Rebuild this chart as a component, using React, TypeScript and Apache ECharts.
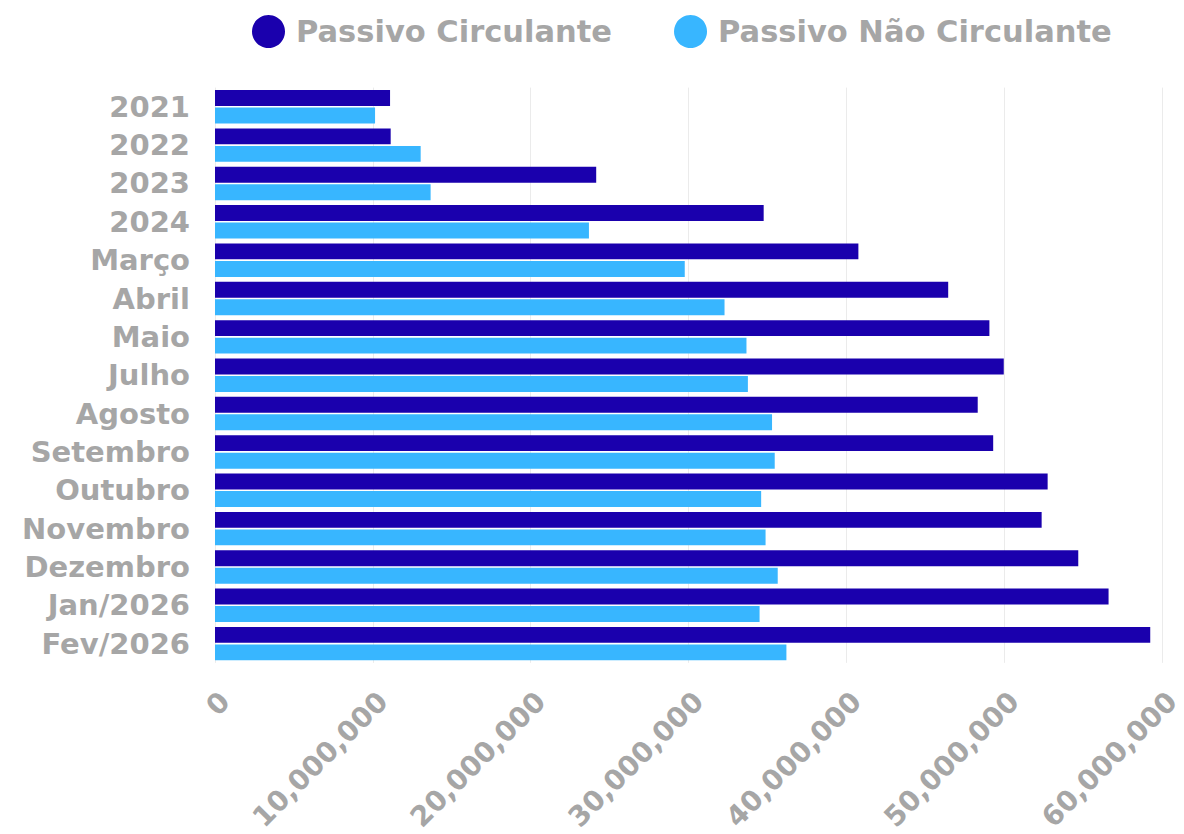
import React, { useEffect, useRef } from "react";
import * as echarts from "echarts";

const categories = [
  "2021", "2022", "2023", "2024", "Março", "Abril", "Maio", "Julho",
  "Agosto", "Setembro", "Outubro", "Novembro", "Dezembro", "Jan/2026", "Fev/2026",
];
const passivoCirculante = [
  11090000, 11130000, 24150000, 34760000, 40760000, 46450000, 49060000, 49970000,
  48320000, 49300000, 52750000, 52370000, 54690000, 56610000, 59250000,
];
const passivoNaoCirculante = [
  10140000, 13030000, 13660000, 23690000, 29760000, 32280000, 33670000, 33760000,
  35290000, 35460000, 34600000, 34880000, 35650000, 34500000, 36200000,
];
const seriesNames = ["Passivo Circulante", "Passivo Não Circulante"];
const xTicks = { min: 0, max: 60000000, interval: 10000000 };

const FONT = "DejaVu Sans";
const GRAY = "#a6a6a6";

export default function App() {
  const ref = useRef<HTMLDivElement>(null);
  useEffect(() => {
    document.body.style.margin = "0";
    const chart = echarts.init(ref.current!, null, { renderer: "svg" });
    chart.setOption({
      animation: false,
      legend: {
        left: 247,
        top: 10,
        icon: "circle",
        itemWidth: 33,
        itemHeight: 33,
        itemGap: 62,
        textStyle: { color: GRAY, fontSize: 30.5, fontWeight: 700, fontFamily: FONT, padding: [0, 0, 0, 6] },
        data: seriesNames,
      },
      grid: { left: 215, right: 20, top: 87.6, bottom: 170.4 },
      xAxis: {
        type: "value",
        min: xTicks.min,
        max: xTicks.max,
        interval: xTicks.interval,
        axisLine: { show: false },
        axisTick: { show: false },
        splitLine: { lineStyle: { color: "#ebebeb", width: 1 } },
        axisLabel: {
          rotate: 45,
          margin: 24,
          verticalAlign: "top",
          color: GRAY,
          fontSize: 28,
          fontWeight: 700,
          fontFamily: FONT,
          formatter: (v: number) => v.toLocaleString("en-US"),
        },
      },
      yAxis: {
        type: "category",
        inverse: true,
        data: categories,
        axisLine: { show: false },
        axisTick: { show: false },
        axisLabel: {
          margin: 25,
          color: GRAY,
          fontSize: 29,
          fontWeight: 700,
          fontFamily: FONT,
        },
      },
      series: [
        {
          name: seriesNames[0],
          type: "bar",
          data: passivoCirculante,
          itemStyle: { color: "#1a00ad" },
          barGap: "10%",
          barCategoryGap: "12.8%",
        },
        {
          name: seriesNames[1],
          type: "bar",
          data: passivoNaoCirculante,
          itemStyle: { color: "#38b6ff" },
          barGap: "10%",
          barCategoryGap: "12.8%",
        },
      ],
    });
    return () => chart.dispose();
  }, []);
  return <div ref={ref} style={{ width: 1184, height: 834 }} />;
}
